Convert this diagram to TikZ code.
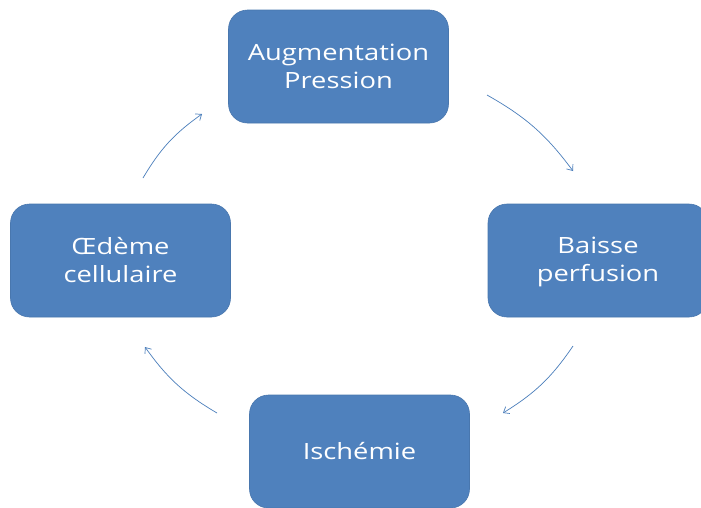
\documentclass[tikz,border=0pt]{standalone}
\usepackage{fontspec}
\setmainfont{Open Sans}[FakeStretch=1.22]
\usetikzlibrary{arrows.meta}
\definecolor{boxblue}{HTML}{4F81BD}
\definecolor{arrowblue}{HTML}{4A7EBB}
\tikzset{
  cyclebox/.style={rectangle, rounded corners=19pt, fill=boxblue, draw=boxblue!92!black, line width=0.6pt,
    minimum width=220pt, minimum height=113pt, text=white, align=center,
    font=\fontsize{22.4}{28}\selectfont, inner sep=0pt},
  cyclearrow/.style={draw=arrowblue, line width=0.7pt, -{Straight Barb[length=5pt,width=8pt]}, bend left=12}
}
\begin{document}
\begin{tikzpicture}[x=1pt,y=-1pt]
\useasboundingbox (0,0) rectangle (701,507);
\clip (0,0) rectangle (701,507);
\fill[white] (0,0) rectangle (701,507);
\node[cyclebox] (aug) at (338.5,66.5) {Augmentation\\Pression};
\node[cyclebox] (bai) at (598,260.5) {\strut Baisse\\perfusion};
\node[cyclebox] (isc) at (359.5,451.5) {Ischémie};
\node[cyclebox] (oed) at (120.5,260.5) {Œdème\\cellulaire};
\coordinate (a1s) at (143,178);
\coordinate (a1e) at (202,114);
\coordinate (a2s) at (487,95);
\coordinate (a2e) at (573,171);
\coordinate (a3s) at (573,346);
\coordinate (a3e) at (503,413);
\coordinate (a4s) at (217,413);
\coordinate (a4e) at (145,347);
\draw[cyclearrow] (a1s) to (a1e);
\draw[cyclearrow] (a2s) to (a2e);
\draw[cyclearrow] (a3s) to (a3e);
\draw[cyclearrow] (a4s) to (a4e);
\end{tikzpicture}
\end{document}
